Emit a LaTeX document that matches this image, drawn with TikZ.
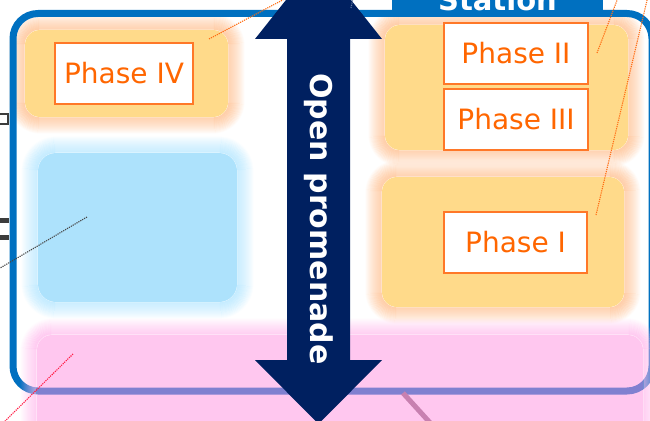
\documentclass[tikz,border=0pt]{standalone}
\usepackage{fontspec}
\setmainfont{DejaVu Sans}
\definecolor{frameblue}{RGB}{0,112,192}
\definecolor{navyarrow}{RGB}{0,32,96}
\definecolor{yfill}{RGB}{255,218,138}
\definecolor{peach}{RGB}{255,204,166}
\definecolor{bfill}{RGB}{173,226,252}
\definecolor{bglow}{RGB}{195,235,255}
\definecolor{pinkfill}{RGB}{255,144,224}
\definecolor{pinkglow}{RGB}{255,185,236}
\definecolor{phaseorange}{RGB}{255,102,0}
\definecolor{borderorange}{RGB}{255,120,40}
\definecolor{dotorange}{RGB}{255,110,20}
\definecolor{dotgray}{RGB}{70,70,70}
\definecolor{dotblue}{RGB}{100,120,160}
\definecolor{dotred}{RGB}{255,30,70}
\definecolor{mauve}{RGB}{200,128,176}
\definecolor{edgegray}{RGB}{60,60,60}
\newcommand{\glowrect}[8]{%
  \foreach \i in {1,...,16}{%
    \pgfmathsetmacro\op{#8*(1-\i/17)}%
    \pgfmathsetmacro\rr{#5+\i}%
    \draw[#7, line width=1.3pt, draw opacity=\op, rounded corners=\rr pt]
      ({#1-\i},{#2-\i}) rectangle ({#3+\i},{#4+\i});
  }%
}
\tikzset{
  phasebox/.style={draw=borderorange, line width=1.4pt, fill=white,
    text=phaseorange, font=\fontsize{28}{30}\selectfont,
    minimum height=61pt, inner sep=0pt, text depth=2pt},
  dotline/.style={line width=1.1pt, dash pattern=on 1.2pt off 1pt},
}
\begin{document}
\begin{tikzpicture}[x=1pt,y=-1pt]
\useasboundingbox (0,0) rectangle (650,420);
\clip (0,0) rectangle (650,420);
% soft yellow / blue areas
\glowrect{25}{30}{228}{117}{15}{yfill}{peach}{1}
\fill[yfill, rounded corners=15pt] (25,30) rectangle (228,117);
\glowrect{385}{25}{628}{150}{15}{yfill}{peach}{1}
\fill[yfill, rounded corners=15pt] (385,25) rectangle (628,150);
\glowrect{382}{177}{624}{307}{15}{yfill}{peach}{1}
\fill[yfill, rounded corners=15pt] (382,177) rectangle (624,307);
\glowrect{38}{153}{237}{302}{18}{bfill}{bglow}{1}
\fill[bfill, rounded corners=18pt] (38,153) rectangle (237,302);
% frame
\draw[frameblue, line width=7pt, rounded corners=25pt] (13,13.5) rectangle (652,391);
% pink area
\glowrect{37}{335}{643}{440}{15}{pinkfill}{pinkglow}{0.7}
\fill[pinkfill, fill opacity=0.5, rounded corners=15pt] (37,335) rectangle (643,440);
% mauve line
\coordinate (m1) at (403,393);
\coordinate (m2) at (433,426);
\draw[mauve, line width=5pt] (m1) -- (m2);
% station label
\fill[frameblue] (392,-10) rectangle (603,14);
\node[anchor=base, text=white, font=\bfseries\fontsize{29}{30}\selectfont] (station) at (497.5,11) {Station};
% phase boxes
\node[phasebox, minimum width=138pt] (p4) at (124,73.5) {Phase IV};
\node[phasebox, minimum width=144pt] (p2) at (516,53.5) {Phase II};
\node[phasebox, minimum width=144pt] (p3) at (516,119.5) {Phase III};
\node[phasebox, minimum width=143pt] (p1) at (515.5,242.5) {Phase I};
% double arrow
\fill[navyarrow] (318.5,-41) -- (382,39) -- (350,39) -- (350,360) -- (382,360)
  -- (318.5,424) -- (255,360) -- (287,360) -- (287,39) -- (255,39) -- cycle;
\node[rotate=-90, text=white, font=\bfseries\fontsize{30}{32}\selectfont] (prom) at (318.5,219) {Open promenade};
% left edge fragments
\draw[edgegray, line width=1.5pt] (-5,114) rectangle (8,124);
\fill[edgegray] (0,218) rectangle (9,223);
\fill[edgegray] (0,235) rectangle (9,240);
% dotted leader lines
\coordinate (a1) at (209,39);   \coordinate (a2) at (292,-5);
\coordinate (b1) at (597,53);   \coordinate (b2) at (619,-5);
\coordinate (c1) at (596,215);  \coordinate (c2) at (649,-8);
\coordinate (e1) at (87,217);   \coordinate (e2) at (-5,271);
\coordinate (f1) at (73,354);   \coordinate (f2) at (-2,428);
\coordinate (g1) at (351,8);    \coordinate (g2) at (353,-2);
\draw[dotline, dotorange] (a1) -- (a2);
\draw[dotline, dotorange] (b1) -- (b2);
\draw[dotline, dotorange] (c1) -- (c2);
\draw[dotline, dotgray] (e1) -- (e2);
\draw[dotline, dotred] (f1) -- (f2);
\draw[dotline, dotblue] (g1) -- (g2);
\end{tikzpicture}
\end{document}
